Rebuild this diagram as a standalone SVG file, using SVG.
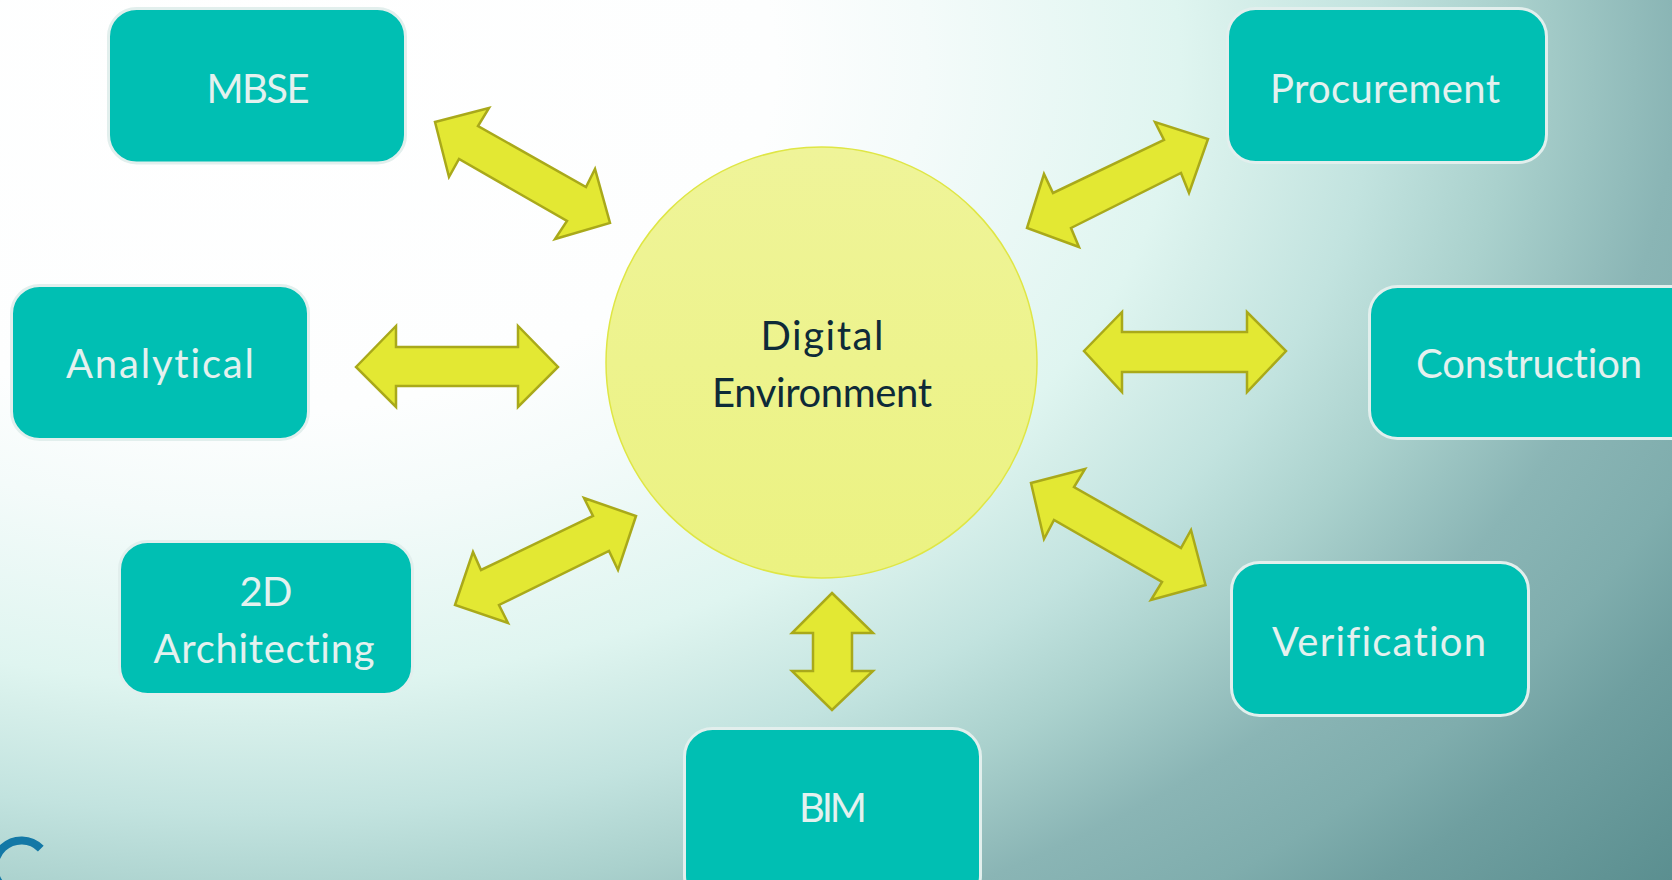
<svg xmlns="http://www.w3.org/2000/svg" width="1672" height="880" viewBox="0 0 1672 880">
<defs>
<radialGradient id="bg" gradientUnits="userSpaceOnUse" cx="0" cy="0" r="1300" gradientTransform="translate(250,64) scale(1.5,1)">
<stop offset="0" stop-color="#ffffff"/>
<stop offset="0.269" stop-color="#fdfefe"/>
<stop offset="0.346" stop-color="#f4fbfa"/>
<stop offset="0.477" stop-color="#dff5f0"/>
<stop offset="0.508" stop-color="#d6efea"/>
<stop offset="0.577" stop-color="#c2e3df"/>
<stop offset="0.646" stop-color="#aad1cd"/>
<stop offset="0.731" stop-color="#8ab5b5"/>
<stop offset="0.8" stop-color="#7fadad"/>
<stop offset="0.854" stop-color="#6f9fa0"/>
<stop offset="0.962" stop-color="#5b8f90"/>
<stop offset="1" stop-color="#558a8b"/>
</radialGradient>
<linearGradient id="cir" x1="0" y1="0" x2="0" y2="1">
<stop offset="0" stop-color="#eff499"/>
<stop offset="1" stop-color="#ebf281"/>
</linearGradient>
<style>
.box{fill:#00bfb3;stroke:#e2efed;stroke-width:3}
.lbl{font-family:Lato,"Liberation Sans",sans-serif;font-size:40px;fill:#e4f1ef;text-anchor:middle;font-variant-ligatures:none}
.ctr{font-family:Lato,"Liberation Sans",sans-serif;font-size:40px;fill:#0e2a38;text-anchor:middle;font-variant-ligatures:none}
.arr{fill:#e3e833;stroke:#a9a91a;stroke-width:2.5;stroke-linejoin:miter}
</style>
</defs>
<rect x="0" y="0" width="1672" height="880" fill="url(#bg)"/>
<path d="M 40.8 848.6 A 27 27 0 0 0 1.3 885.4" fill="none" stroke="#1378a6" stroke-width="8"/>

<g id="connectors">
<polygon class="arr" points="435,122 489,108 478,126 586,187 595,169 610,223 555,239 567,221 459,159 449,177"/>
<polygon class="arr" points="1208,139 1189,193 1181,173 1071,228 1079,247 1027,228 1044,174 1053,193 1164,140 1155,122"/>
<polygon class="arr" points="356,367 396,326 396,347 518,347 518,326 558,367 518,407 518,386 396,386 396,407"/>
<polygon class="arr" points="1084,351 1122,312 1122,332 1247,332 1247,312 1286,351 1247,392 1247,372 1122,372 1122,392"/>
<polygon class="arr" points="636,516 618,570 609,551 499,605 508,623 455,605 473,552 481,570 593,516 584,498"/>
<polygon class="arr" points="1031,483 1085,469 1074,487 1181,548 1191,530 1205.5,585 1151,600 1162,582 1054,520 1044,539"/>
<polygon class="arr" points="832,593 873,633 852,633 852,671 873,671 832,710 792,671 813,671 813,633 792,633"/>
</g>

<g id="digital-environment">
<circle cx="821.5" cy="362.5" r="215.5" fill="url(#cir)" stroke="#dfe645" stroke-width="1.5"/>
<text class="ctr" x="822" y="350" textLength="123">Digital</text>
<text class="ctr" x="822" y="407" textLength="220">Environment</text>
</g>

<g id="mbse">
<rect class="box" x="108.5" y="8.5" width="297" height="154.5" rx="28"/>
<text class="lbl" x="258" y="103" textLength="103">MBSE</text>
</g>
<g id="procurement">
<rect class="box" x="1227.5" y="8.5" width="319" height="154" rx="28"/>
<text class="lbl" x="1385" y="103" textLength="230">Procurement</text>
</g>
<g id="analytical">
<rect class="box" x="11.5" y="285.5" width="297" height="154" rx="28"/>
<text class="lbl" x="160" y="378" textLength="188">Analytical</text>
</g>
<g id="construction">
<rect class="box" x="1369.5" y="286.5" width="330" height="152" rx="28"/>
<text class="lbl" x="1529" y="378" textLength="226">Construction</text>
</g>
<g id="architecting">
<rect class="box" x="119.5" y="541.5" width="293" height="153" rx="28"/>
<text class="lbl" x="266" y="606" textLength="53">2D</text>
<text class="lbl" x="264" y="663" textLength="221">Architecting</text>
</g>
<g id="verification">
<rect class="box" x="1231.5" y="562.5" width="297" height="153" rx="28"/>
<text class="lbl" x="1379" y="656" textLength="214">Verification</text>
</g>
<g id="bim">
<rect class="box" x="684.5" y="728.5" width="296" height="175" rx="28"/>
<text class="lbl" x="833" y="822" textLength="68">BIM</text>
</g>
</svg>
